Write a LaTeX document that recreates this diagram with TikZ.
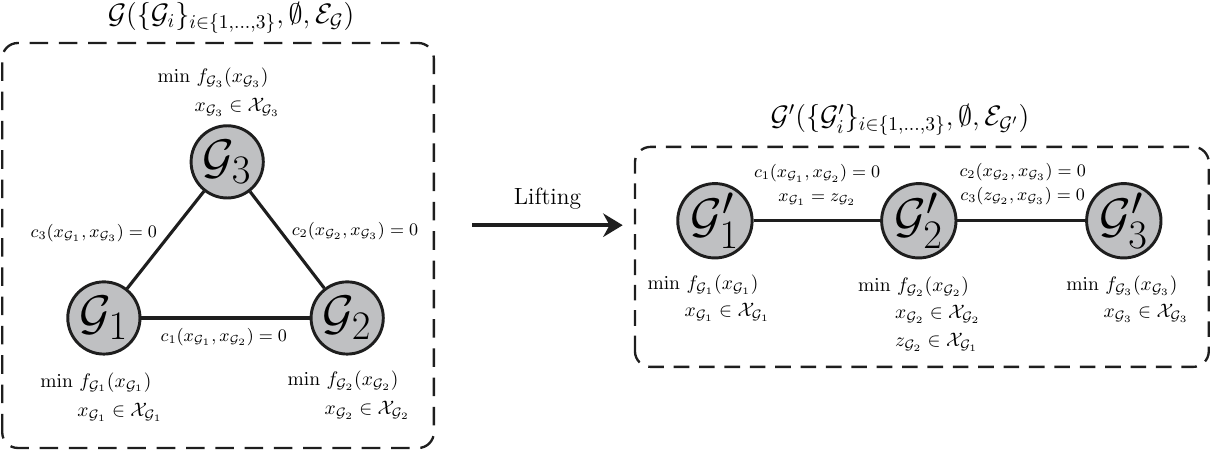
\documentclass[tikz,border=0pt]{standalone}
\usepackage{amsmath,amssymb}
\usepackage{xcolor}
\usepackage{tikz}
\usetikzlibrary{arrows.meta}
\definecolor{nodegray}{RGB}{191,192,194}
\definecolor{inkblack}{RGB}{30,30,30}

\begin{document}
\begin{tikzpicture}[
    agent/.style={circle, draw=inkblack, line width=1.5pt, fill=nodegray, minimum size=1.3cm, inner sep=0pt, font=\Huge},
    link/.style={line width=1.6pt, inkblack},
    cluster/.style={draw=inkblack, line width=1.2pt, dash pattern=on 8pt off 5pt, rounded corners=8pt},
    local/.style={align=left, anchor=west, inner sep=0pt},
    cons/.style={font=\small, align=center, inner sep=0pt},
    heading/.style={font=\Large, inner sep=0pt}
  ]
    \useasboundingbox (0,0) rectangle (21.8,8.154);

    % original graph
    \draw[cluster, dash pattern=on 9.5pt off 5.5pt] (0.04,0.09) rectangle (7.81,7.38);
    \node[heading] (gtitle) at (4.16,7.83) {$\mathcal{G}(\{\mathcal{G}_i\}_{i\in\{1,\dots,3\}},\emptyset,\mathcal{E}_{\mathcal{G}})$};
    \node[agent] (g1) at (1.87,2.43) {$\mathcal{G}_1$};
    \node[agent] (g2) at (6.25,2.43) {$\mathcal{G}_2$};
    \node[agent] (g3) at (4.09,5.24) {$\mathcal{G}_3$};
    \draw[link] (g1) -- (g2);
    \draw[link] (g1) -- (g3);
    \draw[link] (g2) -- (g3);
    \node[cons] (c1) at (4.03,2.09) {$c_1(x_{\mathcal{G}_1},x_{\mathcal{G}_2})=0$};
    \node[cons] (c2) at (6.39,4.00) {$c_2(x_{\mathcal{G}_2},x_{\mathcal{G}_3})=0$};
    \node[cons] (c3) at (1.69,3.96) {$c_3(x_{\mathcal{G}_1},x_{\mathcal{G}_3})=0$};
    \node[local] (p1) at (0.72,1.01) {$\min\, f_{\mathcal{G}_1}(x_{\mathcal{G}_1})$\\[3pt]
      \hspace*{19pt}$x_{\mathcal{G}_1}\in\mathcal{X}_{\mathcal{G}_1}$};
    \node[local] (p2) at (5.17,1.04) {$\min\, f_{\mathcal{G}_2}(x_{\mathcal{G}_2})$\\[3pt]
      \hspace*{19pt}$x_{\mathcal{G}_2}\in\mathcal{X}_{\mathcal{G}_2}$};
    \node[local] (p3) at (2.83,6.49) {$\min\, f_{\mathcal{G}_3}(x_{\mathcal{G}_3})$\\[3pt]
      \hspace*{19pt}$x_{\mathcal{G}_3}\in\mathcal{X}_{\mathcal{G}_3}$};

    % lifting step
    \coordinate (liftstart) at (8.50,4.10);
    \coordinate (liftend) at (11.21,4.10);
    \draw[-{Stealth[length=10pt,width=12pt]}, line width=2pt, inkblack] (liftstart) -- (liftend)
      node[midway, above=4pt, font=\large, text=black] (lift) {Lifting};

    % lifted graph
    \draw[cluster] (11.43,1.55) rectangle (21.76,5.51);
    \node[heading] (htitle) at (16.20,5.99) {$\mathcal{G}'(\{\mathcal{G}'_i\}_{i\in\{1,\dots,3\}},\emptyset,\mathcal{E}_{\mathcal{G}'})$};
    \node[agent] (h1) at (12.87,4.18) {$\mathcal{G}'_1$};
    \node[agent] (h2) at (16.54,4.18) {$\mathcal{G}'_2$};
    \node[agent] (h3) at (20.23,4.18) {$\mathcal{G}'_3$};
    \draw[link] (h1) -- (h2);
    \draw[link] (h2) -- (h3);
    \node[cons] (d12) at (14.71,4.82) {$c_1(x_{\mathcal{G}_1},x_{\mathcal{G}_2})=0$\\[1pt]
      $x_{\mathcal{G}_1}=z_{\mathcal{G}_2}$};
    \node[cons] (d23) at (18.41,4.84) {$c_2(x_{\mathcal{G}_2},x_{\mathcal{G}_3})=0$\\[1pt]
      $c_3(z_{\mathcal{G}_2},x_{\mathcal{G}_3})=0$};
    \node[local] (q1) at (11.65,2.79) {$\min\, f_{\mathcal{G}_1}(x_{\mathcal{G}_1})$\\[2pt]
      \hspace*{19pt}$x_{\mathcal{G}_1}\in\mathcal{X}_{\mathcal{G}_1}$};
    \node[local] (q2) at (15.44,2.50) {$\min\, f_{\mathcal{G}_2}(x_{\mathcal{G}_2})$\\[2pt]
      \hspace*{19pt}$x_{\mathcal{G}_2}\in\mathcal{X}_{\mathcal{G}_2}$\\[2pt]
      \hspace*{19pt}$z_{\mathcal{G}_2}\in\mathcal{X}_{\mathcal{G}_1}$};
    \node[local] (q3) at (19.19,2.77) {$\min\, f_{\mathcal{G}_3}(x_{\mathcal{G}_3})$\\[2pt]
      \hspace*{19pt}$x_{\mathcal{G}_3}\in\mathcal{X}_{\mathcal{G}_3}$};
\end{tikzpicture}
\end{document}
